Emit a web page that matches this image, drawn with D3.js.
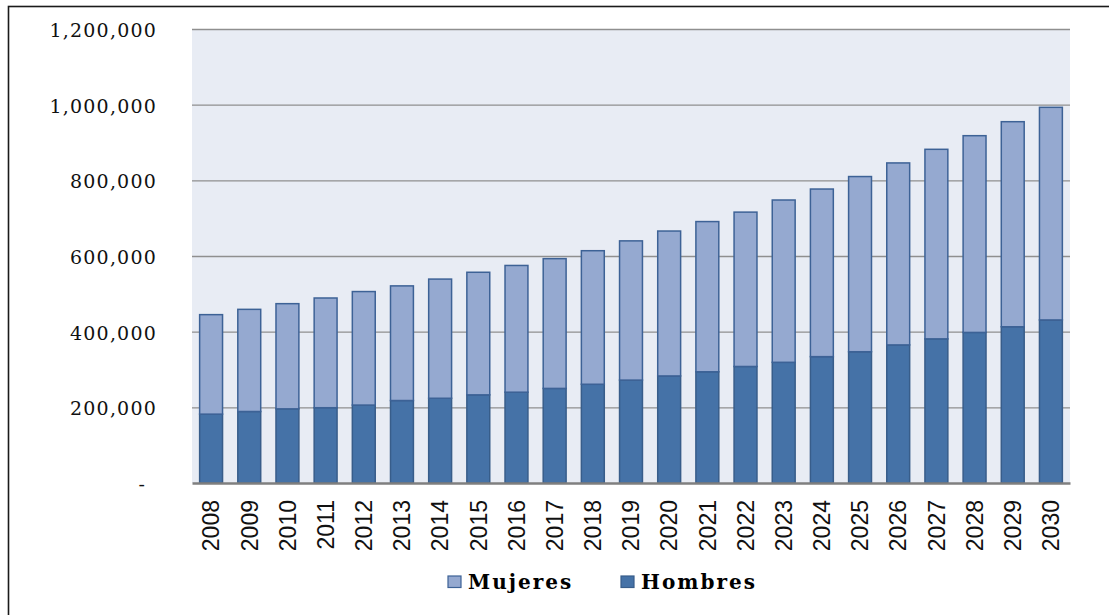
<!DOCTYPE html>
<html>
<head>
<meta charset="utf-8">
<script src="https://cdn.jsdelivr.net/npm/d3@7"></script>
<style>
  body { margin: 0; background: #fff; }
  svg { display: block; }
</style>
</head>
<body>
<div id="chart"></div>
<script>
const width = 1109;
const height = 615;

const margin = ({top: 29, right: 39, bottom: 132, left: 192});

const years = ["2008", "2009", "2010", "2011", "2012", "2013", "2014", "2015", "2016", "2017", "2018", "2019",
  "2020", "2021", "2022", "2023", "2024", "2025", "2026", "2027", "2028", "2029", "2030"];
const hombres = [182000, 189000, 196000, 199000, 206000, 218000, 224000, 233000, 240000, 250000, 261000, 272000,
  283000, 294000, 308000, 319000, 334000, 347000, 365000, 381000, 398000, 413000, 431000];
const mujeres = [263000, 270000, 278000, 290000, 300000, 303000, 315000, 324000, 335000, 343000, 353000, 368000,
  383000, 397000, 408000, 429000, 443000, 463000, 481000, 501000, 520000, 542000, 562000];
const yTicks = [0, 200000, 400000, 600000, 800000, 1000000, 1200000];
const seriesNames = ["Mujeres", "Hombres"];

const colors = {
  Hombres: {fill: "#4572a7", stroke: "#385d8a"},
  Mujeres: {fill: "#95a9d0", stroke: "#3d6296"}
};

const data = years.map((y, i) => ({year: y, Hombres: hombres[i], Mujeres: mujeres[i]}));
const stacked = d3.stack().keys(["Hombres", "Mujeres"])(data);

const x = d3.scaleBand()
  .domain(years)
  .range([margin.left, width - margin.right])
  .paddingInner(0.4)
  .paddingOuter(0.2);

const y = d3.scaleLinear()
  .domain([0, 1200000])
  .range([height - margin.bottom, margin.top]);

const svg = d3.select("#chart")
  .append("svg")
  .attr("width", width)
  .attr("height", height);

// outer frame (right and bottom edges fall outside the picture)
svg.append("rect")
  .attr("x", 8.5).attr("y", 6.5)
  .attr("width", width + 20).attr("height", height + 20)
  .attr("fill", "none")
  .attr("stroke", "#1a1a1a")
  .attr("stroke-width", 1.6);

// plot background
svg.append("rect")
  .attr("x", margin.left).attr("y", margin.top)
  .attr("width", width - margin.right - margin.left)
  .attr("height", height - margin.bottom - margin.top)
  .attr("fill", "#e8ecf4");

// gridlines + y labels
const yAxis = g => g
  .attr("transform", `translate(${margin.left},0)`)
  .call(d3.axisLeft(y).tickValues(yTicks).tickSize(0).tickPadding(35)
    .tickFormat(d => d === 0 ? "-" : d3.format(",")(d)))
  .call(g => g.select(".domain").remove())
  .call(g => g.selectAll(".tick text")
    .attr("font-family", "'DejaVu Serif', serif")
    .attr("font-size", 19)
    .attr("letter-spacing", 1.2)
    .attr("fill", "#111")
    .attr("dy", "0.4em")
    .attr("dx", d => d === 0 ? -11 : 0))
  .call(g => g.selectAll(".tick").filter(d => d > 0)
    .append("line")
    .attr("x1", 0)
    .attr("x2", width - margin.right - margin.left)
    .attr("stroke", "#8f8f8f")
    .attr("stroke-width", 1.3));

svg.append("g").call(yAxis);

// bars
svg.append("g")
  .selectAll("g")
  .data(stacked)
  .join("g")
  .attr("fill", d => colors[d.key].fill)
  .attr("stroke", d => colors[d.key].stroke)
  .selectAll("rect")
  .data(d => d)
  .join("rect")
  .attr("x", d => x(d.data.year))
  .attr("y", d => y(d[1]))
  .attr("width", x.bandwidth())
  .attr("height", d => y(d[0]) - y(d[1]))
  .attr("stroke-width", 1.5);

// x axis
const xAxis = g => g
  .attr("transform", `translate(0,${height - margin.bottom})`)
  .call(d3.axisBottom(x).tickSize(0).tickPadding(0))
  .call(g => g.select(".domain")
    .attr("stroke", "#7f7f7f")
    .attr("stroke-width", 2.5))
  .call(g => g.selectAll(".tick text")
    .attr("font-family", "'Liberation Sans Narrow', 'Arial Narrow', sans-serif")
    .attr("font-size", 23)
    .attr("fill", "#111")
    .attr("text-anchor", "end")
    .attr("transform", "rotate(-90)")
    .attr("x", -17)
    .attr("y", 0)
    .attr("dy", "0.36em"));

svg.append("g").call(xAxis);

// legend
const legendItems = [
  {name: seriesNames[0], x: 448},
  {name: seriesNames[1], x: 621}
];

const legend = svg.append("g")
  .selectAll("g")
  .data(legendItems)
  .join("g")
  .attr("transform", d => `translate(${d.x},576)`);

legend.append("rect")
  .attr("width", 13)
  .attr("height", 11.5)
  .attr("fill", d => colors[d.name].fill)
  .attr("stroke", d => colors[d.name].stroke)
  .attr("stroke-width", 1.2);

legend.append("text")
  .attr("x", 20)
  .attr("y", 12.5)
  .attr("font-family", "'DejaVu Serif', serif")
  .attr("font-weight", "bold")
  .attr("font-size", 20)
  .attr("letter-spacing", 2)
  .attr("fill", "#000")
  .text(d => d.name);
</script>
</body>
</html>
